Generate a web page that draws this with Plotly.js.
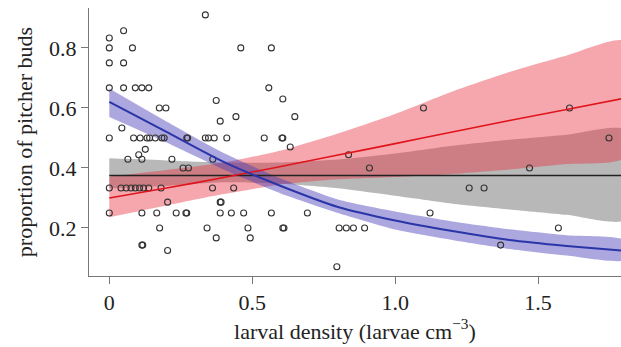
<!DOCTYPE html>
<html><head><meta charset="utf-8">
<script src="https://cdn.plot.ly/plotly-3.0.1.min.js"></script>
<style>html,body{margin:0;padding:0;background:#fff}#chart{width:621px;height:347px}</style>
</head><body><div id="chart"></div>
<script>
// observed points (larval density, proportion of pitcher buds)
var pointX = [0.336,0.05,0,0,0.081,0.46,0.567,
  0,0.05,
  0,0.05,0.091,0.114,0.138,0.558,
  0.374,0.175,0.198,0.443,0.388,0.044,0.607,0.649,
  0,0.085,0.108,0.132,0.141,0.161,0.184,0.192,0.271,0.274,0.336,0.347,0.367,0.411,0.542,0.604,0.607,
  0.633,0.126,0.103,0.065,0.114,0.219,0.362,0.258,0.277,
  0,0.041,0.059,0.076,0.091,0.106,0.12,0.138,0.181,0.361,0.435,
  0.204,0.388,0.391,
  0,0.114,0.166,0.234,0.268,0.271,0.388,0.427,0.47,0.567,0.693,1.122,
  0.176,0.342,0.485,0.607,0.611,0.804,0.829,0.854,0.893,1.571,
  0.374,0.493,0.114,0.117,0.204,0.796,
  1.099,0.837,0.91,1.748,1.47,1.259,1.311,1.369,1.61];
var pointY = [0.91,0.857,0.833,0.8,0.8,0.8,0.8,
  0.75,0.75,
  0.667,0.667,0.667,0.667,0.667,0.667,
  0.625,0.6,0.6,0.571,0.556,0.533,0.63,0.571,
  0.5,0.5,0.5,0.5,0.5,0.5,0.5,0.5,0.5,0.5,0.5,0.5,0.5,0.5,0.5,0.5,0.5,
  0.47,0.462,0.444,0.429,0.429,0.429,0.429,0.4,0.4,
  0.333,0.333,0.333,0.333,0.333,0.333,0.333,0.333,0.333,0.333,0.333,
  0.286,0.286,0.286,
  0.25,0.25,0.25,0.25,0.25,0.25,0.25,0.25,0.25,0.25,0.25,0.25,
  0.2,0.2,0.2,0.2,0.2,0.2,0.2,0.2,0.2,0.2,
  0.167,0.167,0.143,0.143,0.125,0.071,
  0.6,0.444,0.4,0.5,0.4,0.333,0.333,0.143,0.6];

// fitted curves and confidence bands, read at these densities
var curveX = [0,0.2,0.4,0.6,0.8,1.0,1.2,1.4,1.6,1.8];
var grayFit   = [0.375,0.375,0.375,0.375,0.375,0.375,0.375,0.375,0.375,0.375];
var grayUpper = [0.432,0.425,0.418,0.418,0.428,0.448,0.474,0.494,0.511,0.528];
var grayLower = [0.332,0.34,0.352,0.347,0.332,0.307,0.281,0.262,0.244,0.226];
var redFit    = [0.30,0.333,0.368,0.405,0.443,0.481,0.52,0.558,0.595,0.632];
var redUpper  = [0.371,0.393,0.418,0.458,0.515,0.58,0.655,0.72,0.775,0.823];
var redLower  = [0.236,0.275,0.313,0.345,0.362,0.37,0.38,0.395,0.413,0.434];
var blueFit   = [0.62,0.52,0.42,0.34,0.27,0.225,0.19,0.16,0.14,0.124];
var blueUpper = [0.665,0.555,0.45,0.365,0.295,0.255,0.222,0.196,0.176,0.16];
var blueLower = [0.57,0.485,0.395,0.315,0.25,0.195,0.16,0.13,0.108,0.093];

var xTicks = [0,0.5,1.0,1.5];
var xTickText = ['0','0.5','1.0','1.5'];
var yTicks = [0.2,0.4,0.6,0.8];
var yTickText = ['0.2','0.4','0.6','0.8'];

function band(up, lo, color) {
  return {x: curveX.concat(curveX.slice().reverse()),
          y: up.concat(lo.slice().reverse()),
          type:'scatter', mode:'lines', fill:'toself', fillcolor:color,
          line:{width:0, shape:'spline', smoothing:0.6}, hoverinfo:'skip', showlegend:false};
}
function fit(y, color, w) {
  return {x: curveX, y: y, type:'scatter', mode:'lines',
          line:{color:color, width:w, shape:'spline', smoothing:0.6}, showlegend:false};
}

var traces = [
  band(grayUpper, grayLower, 'rgba(140,140,140,0.62)'),
  band(redUpper, redLower, 'rgba(232,45,60,0.42)'),
  band(blueUpper, blueLower, 'rgba(70,60,185,0.45)'),
  {x: pointX, y: pointY, type:'scatter', mode:'markers',
   marker:{symbol:'circle-open', size:6, color:'#333', line:{width:1.1, color:'#333'}}, showlegend:false},
  fit(grayFit, '#222', 1.6),
  fit(redFit, '#e0141c', 1.6),
  fit(blueFit, '#2a35a8', 2)
];

var axisFont = {family:'Liberation Serif, Times New Roman, serif', size:22, color:'#222'};
var layout = {
  width:621, height:347,
  margin:{l:89, r:0, t:8, b:71},
  paper_bgcolor:'#fff', plot_bgcolor:'#fff',
  showlegend:false,
  font: axisFont,
  xaxis:{range:[-0.071,1.79], tickvals:xTicks, ticktext:xTickText, ticks:'outside', ticklen:7,
         tickcolor:'#777', showline:true, linecolor:'#777', linewidth:1, showgrid:false, zeroline:false,
         tickfont:axisFont,
         title:{text:'larval density (larvae cm<sup>−3</sup>)', font:axisFont, standoff:4}},
  yaxis:{range:[0.04,0.933], tickvals:yTicks, ticktext:yTickText, ticks:'outside', ticklen:7,
         tickcolor:'#777', showline:true, linecolor:'#777', linewidth:1, showgrid:false, zeroline:false,
         tickfont:axisFont,
         title:{text:'proportion of pitcher buds', font:axisFont, standoff:10}}
};
Plotly.newPlot('chart', traces, layout, {displayModeBar:false, staticPlot:true});
</script></body></html>
